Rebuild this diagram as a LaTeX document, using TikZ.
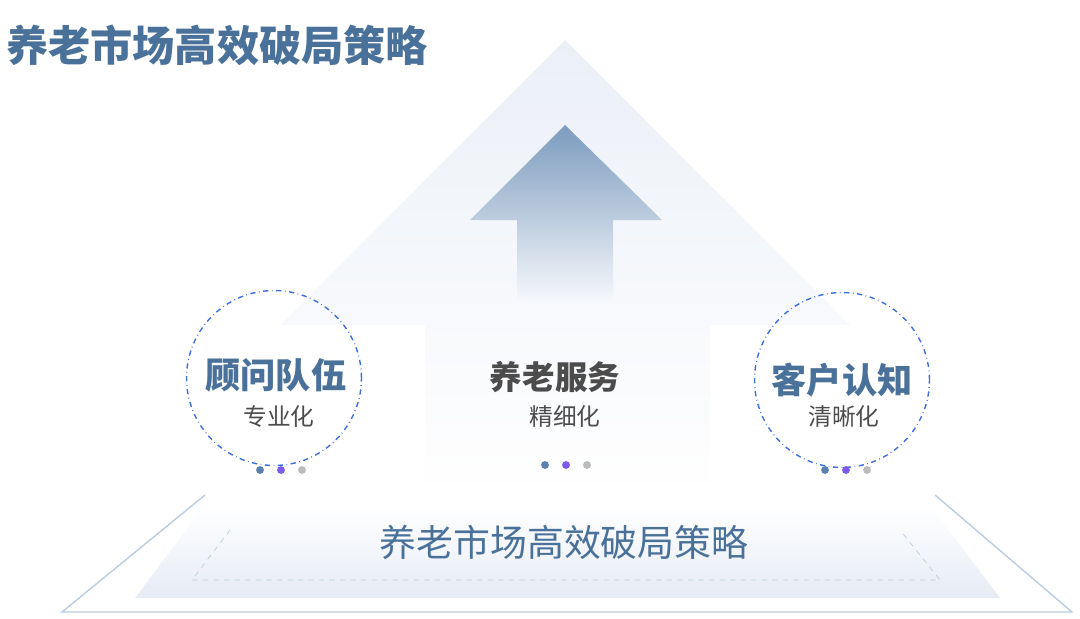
\documentclass[tikz,border=0pt]{standalone}
\usepackage{fontspec}
\setmainfont{Noto Sans CJK SC}
\newfontfamily\cjkbold[BoldFont={Noto Sans CJK SC Bold}]{Noto Sans CJK SC}
\definecolor{titleblue}{HTML}{4A7199}
\definecolor{paleblue}{HTML}{E6ECF5}
\definecolor{lineblue}{HTML}{B9CCE0}
\definecolor{dotblue}{HTML}{5B82AE}
\definecolor{dotpurple}{HTML}{7B5BE8}
\definecolor{dotgray}{HTML}{BBBBBB}
\definecolor{ringblue}{HTML}{3D6FE0}
\begin{document}
\begin{tikzpicture}[x=0.02cm,y=-0.02cm]
	\tikzset{ring/.style={draw=ringblue,dash dot,thick,circle,minimum size=3.5cm}}
	\tikzset{headtxt/.style={font=\bfseries\fontsize{20}{22}\selectfont,text=titleblue}}
	\tikzset{subtxt/.style={font=\fontsize{13.5}{15}\selectfont,text=black!70}}
	\tikzset{dot/.style={circle,inner sep=0pt,minimum size=4.5pt}}
	\useasboundingbox (0,0) rectangle (1080,619);
	% background pyramid
	\shade[top color=paleblue!80,bottom color=white] (565,40) -- (850,325) -- (710,325) -- (710,500) -- (425,500) -- (425,325) -- (280,325) -- cycle;
	% arrow
	\shade[top color=dotblue!80,bottom color=paleblue!40] (565,125) -- (662,220) -- (613,220) -- (613,300) -- (517,300) -- (517,220) -- (470,220) -- cycle;
	% base
	\draw[lineblue,thick] (205,495) -- (62,612) -- (1072,612) -- (935,495);
	\shade[top color=white,bottom color=paleblue] (205,505) -- (930,505) -- (1000,598) -- (135,598) -- cycle;
	\draw[lineblue,dashed] (230,530) -- (192,580) -- (940,580) -- (900,530);
	% texts
	\node[anchor=west,headtxt,font=\bfseries\fontsize{24}{26}\selectfont] (title) at (0,45) {养老市场高效破局策略};
	\node[text=titleblue,font=\fontsize{21}{23}\selectfont] (base) at (564,542) {养老市场高效破局策略};
	\node[ring] (left) at (274,378) {};
	\node[ring] (right) at (842,380) {};
	\node[headtxt] (lhead) at (276,375) {顾问队伍};
	\node[subtxt] (lsub) at (279,416) {专业化};
	\node[headtxt,text=black!70,font=\bfseries\fontsize{18.5}{20}\selectfont] (chead) at (555,377) {养老服务};
	\node[subtxt] (csub) at (565,416) {精细化};
	\node[headtxt] (rhead) at (842,380) {客户认知};
	\node[subtxt] (rsub) at (844,416) {清晰化};
	% dots
	\foreach \x/\y in {260/470,545/465,825/470}{
		\node[dot,fill=dotblue] at (\x,\y) {};
		\node[dot,fill=dotpurple] at (\x+21,\y) {};
		\node[dot,fill=dotgray] at (\x+42,\y) {};
	}
\end{tikzpicture}
\end{document}
